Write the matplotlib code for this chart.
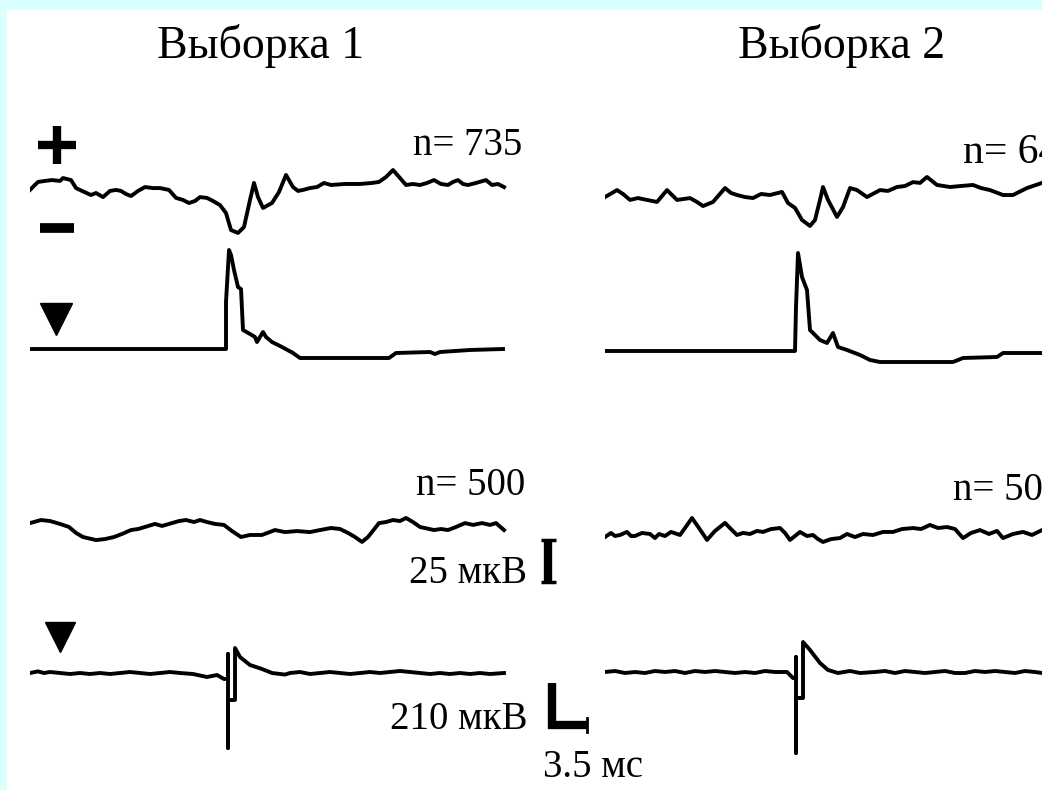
import matplotlib.pyplot as plt
from matplotlib.patches import Rectangle

# averaged traces, (time in ms, amplitude in uV)
# sample 1: evoked response (+/-), trigger channel, control (n=500), trigger channel
s1_evoked = [(0, -2.9), (0.4, -0.5), (0.8, 1.8), (1.5, 2.4), (2.2, 2.9), (3.0, 2.4), (3.3, 4.1),
             (4.1, 2.9), (4.6, -1.8), (5.2, -3.5), (6.1, -5.9), (6.6, -4.7), (7.3, -7.1), (8.0, -3.5),
             (8.6, -2.9), (9.1, -3.5), (9.6, -5.3), (10.1, -6.5), (10.8, -3.5), (11.5, -1.2),
             (12.3, -1.8), (13.0, -1.8), (13.9, -2.9), (14.6, -7.6), (15.3, -8.8), (15.9, -10.6),
             (16.5, -9.4), (17.0, -7.1), (17.7, -7.6), (18.3, -9.4), (19.0, -11.8), (19.6, -16.5),
             (20.1, -26.5), (20.8, -28.2), (21.4, -24.7), (22.0, -8.8), (22.4, 1.2), (22.8, -7.1),
             (23.3, -13.5), (24.2, -10.6), (24.9, -4.1), (25.6, 5.9), (26.3, -1.2), (26.8, -3.5),
             (27.3, -2.9), (28.0, -1.8), (28.7, -1.2), (29.4, 1.2), (30.1, 0), (31.5, 0.6),
             (33.0, 0.6), (34.2, 1.2), (34.9, 1.8), (35.6, 4.7), (36.3, 8.8), (37.0, 4.1),
             (37.6, 0), (38.3, 0.6), (39.0, 0), (39.7, 1.2), (40.4, 2.9), (41.1, 0.6), (41.8, 0),
             (42.3, 1.8), (42.8, 2.9), (43.3, 0.6), (43.8, 0), (44.6, 1.2), (45.6, 2.9), (46.2, 0),
             (46.8, 0.6), (47.4, -1.2)]
s1_trigger = [(0, 0), (19.6, 0), (19.6, 235), (19.9, 495), (20.1, 470), (20.4, 395), (20.8, 310),
              (21.1, 300), (21.3, 95), (22.0, 75), (22.5, 60), (22.7, 35), (23.3, 85), (23.6, 60),
              (24.2, 35), (25.2, 10), (26.3, -20), (27.0, -45), (35.9, -45), (36.6, -20),
              (40.0, -15), (40.5, -25), (41.0, -15), (44.0, -5), (47.3, 0)]
s1_control = [(0, 2.9), (1.1, 4.7), (2.0, 4.1), (3.0, 2.4), (3.9, 0.6), (4.6, -2.9), (5.3, -5.3),
              (6.6, -7.1), (7.5, -6.5), (8.4, -5.3), (9.2, -3.5), (10.1, -1.2), (10.8, -0.6),
              (11.5, 0.6), (12.5, 2.4), (13.2, 1.2), (14.2, 2.9), (14.9, 4.1), (15.6, 4.7),
              (16.4, 3.5), (17.0, 4.7), (17.7, 3.5), (18.5, 2.4), (19.4, 1.8), (20.2, -1.8),
              (21.1, -5.3), (22.0, -4.1), (23.2, -4.1), (24.5, -1.2), (25.5, -2.4), (26.7, -1.8),
              (28.0, -2.4), (29.0, -1.2), (30.1, 0), (31.0, -0.6), (31.8, -2.9), (32.5, -5.3),
              (33.2, -8.2), (33.8, -5.3), (34.9, 2.9), (35.6, 3.5), (36.3, 4.7), (37.0, 4.1),
              (37.6, 5.9), (38.3, 3.5), (39.0, 0.6), (40.4, -1.2), (41.1, -0.6), (41.8, -1.2),
              (42.6, 0.6), (43.5, 2.9), (44.3, 1.8), (45.2, 2.9), (46.0, 1.8), (46.6, 2.9),
              (47.4, -1.2)]
s1_control_trig = [(0, 0), (0.8, 8), (1.4, 0), (2, 5), (3, 0), (4, -5), (5, 0), (6, -5), (7, 0),
                   (8, -5), (9, 0), (10, 5), (11, 0), (12, -5), (13, 0), (14, 5), (15, 0),
                   (16.3, -5), (17.7, -20), (18.7, -10), (19.4, -30), (19.8, -30), (19.8, 95),
                   (19.8, -375), (19.8, -135), (20.5, -135), (20.5, 125), (21.0, 80), (22.0, 40),
                   (23.2, 20), (24.2, 0), (25.5, -8), (26, 0), (27, 5), (28, -5), (29, 0), (30, 5),
                   (31, 0), (32, -5), (33, 0), (34, 5), (35, 0), (36, 5), (37, 10), (38, 5), (39, 0),
                   (40, -5), (41, 0), (42, -5), (43, 0), (44, -5), (45, 0), (46, -5), (47.4, 0)]

# sample 2
s2_evoked = [(0, -1.2), (1.2, 2.9), (1.8, 0.6), (2.5, -2.9), (3.3, -1.8), (4.2, -2.9), (5.2, -4.1),
             (6.2, 2.9), (6.7, 0), (7.2, -2.9), (8.5, -1.8), (9.2, -4.1), (9.8, -6.5), (10.8, -4.1),
             (12.0, 4.1), (12.6, 1.2), (13.2, 0), (14.0, -1.2), (14.8, -1.8), (15.6, 0.6),
             (16.5, 0), (17.7, 1.8), (18.3, -4.7), (19.0, -7.6), (19.7, -14.7), (20.5, -18.2),
             (21.0, -14.7), (21.5, -2.9), (21.8, 4.7), (22.3, -2.9), (23.2, -12.9), (23.8, -7.1),
             (24.5, 4.1), (25.2, 2.9), (26.2, -1.2), (27.5, 2.9), (28.3, 2.4), (29.2, 4.7),
             (30.0, 5.3), (30.8, 7.6), (31.5, 7.1), (32.2, 10.6), (33.2, 5.9), (34.5, 4.7),
             (35.6, 5.3), (36.8, 5.9), (37.6, 4.1), (38.5, 2.9), (39.8, 0), (40.8, 0),
             (42.2, 4.1), (43.7, 7.1)]
s2_trigger = [(0, 0), (19.0, 0), (19.1, 220), (19.3, 490), (19.7, 370), (20.2, 305), (20.5, 105),
              (21.5, 55), (22.2, 40), (22.8, 90), (23.3, 20), (24.2, 5), (25.5, -20), (26.5, -45),
              (27.5, -55), (34.8, -55), (35.8, -35), (39.2, -30), (39.8, -10), (43.7, -10)]
s2_control = [(0, -1.2), (0.6, 1.2), (1.0, -0.6), (1.5, 0), (2.2, 1.8), (2.6, -0.6), (3.0, -0.6),
              (3.7, 1.2), (4.5, 0.6), (5.0, -1.8), (5.4, 0.6), (6.0, -0.6), (6.6, 1.8), (7.5, 0),
              (8.0, 4.1), (8.7, 10.0), (9.4, 4.1), (10.2, -2.9), (11.0, 2.4), (12.0, 7.1),
              (12.6, 3.5), (13.2, 0), (13.8, 1.2), (14.5, 0.6), (15.2, 2.4), (15.8, 1.8),
              (16.6, 3.5), (17.5, 4.1), (18.0, 1.2), (18.5, -2.9), (19.0, -0.6), (19.5, 1.8),
              (20.2, -0.6), (20.8, 0), (21.3, -2.4), (21.8, -4.1), (22.6, -2.4), (23.5, -1.8),
              (24.2, 0.6), (25.0, -1.2), (25.8, 0.6), (26.8, 0), (27.8, 1.8), (28.8, 1.8),
              (29.7, 3.5), (30.8, 4.1), (31.6, 3.5), (32.5, 5.9), (33.3, 4.1), (34.2, 4.7),
              (35.0, 3.5), (35.8, -1.8), (36.6, 1.2), (37.5, 2.9), (38.4, 0.6), (39.2, 2.4),
              (39.8, -1.8), (40.8, 0.6), (41.8, 1.8), (42.7, 0), (43.7, 2.9)]
s2_control_trig = [(0, 0), (1, 5), (2, -5), (3, 0), (4, -5), (5, 5), (6, 0), (7, 5), (8, -5),
                   (9, 5), (10, 0), (11, 5), (12, 0), (13, -5), (14, 0), (15, -5), (16, 5), (17, 0),
                   (18.2, 0), (18.8, -30), (19.1, -30), (19.1, 75), (19.1, -405), (19.1, -130),
                   (19.8, -130), (19.8, 150), (20.5, 110), (21.5, 45), (22.3, 10), (23.3, -5),
                   (24.5, 5), (25.5, -5), (27, 0), (28, 5), (29, -5), (30, 5), (31, 0), (32, -5),
                   (33, 0), (34, 5), (35, -5), (36, -5), (37, 5), (38, 0), (39, 5), (40, 0),
                   (41, -5), (42, 5), (43, 0), (43.7, -5)]

counts = ['n= 735', 'n= 64', 'n= 500', 'n= 500']
titles = ['Выборка 1', 'Выборка 2']
scale_uv_small = 25
scale_uv_large = 210
scale_ms = 3.5

W, H = 1042, 790
PX_PER_MS = 10.0
PX_PER_UV_EVOKED = 1.7
PX_PER_UV_TRIG = 0.2
LW = 2.8

fig = plt.figure(figsize=(W / 100, H / 100), dpi=100)
fig.patch.set_facecolor('#d9ffff')
fig.patches.append(Rectangle((7 / W, 0), 1, 1 - 10 / H, transform=fig.transFigure,
                             facecolor='white', edgecolor='none', zorder=-10))


def trace_axes(x0, base, px_per_uv, t_max=62, half=170):
    # axes whose (0 ms, 0 uV) point sits at pixel (x0, base) counted from the top-left
    ax = fig.add_axes([x0 / W, 1 - (base + half) / H, t_max * PX_PER_MS / W, 2 * half / H])
    ax.set_xlim(0, t_max)
    ax.set_ylim(-half / px_per_uv, half / px_per_uv)
    ax.axis('off')
    return ax


def draw(ax, pts):
    t, v = zip(*pts)
    ax.plot(t, v, color='black', lw=LW)


rows = [(185, 195, PX_PER_UV_EVOKED, s1_evoked, s2_evoked),
        (349, 351, PX_PER_UV_TRIG, s1_trigger, s2_trigger),
        (528, 535, PX_PER_UV_EVOKED, s1_control, s2_control),
        (673, 672, PX_PER_UV_TRIG, s1_control_trig, s2_control_trig)]
row_axes = []
for base1, base2, scale, left, right in rows:
    a1 = trace_axes(30, base1, scale)
    a2 = trace_axes(605, base2, scale)
    draw(a1, left)
    draw(a2, right)
    row_axes.append(a1)

# calibration bars next to sample 1
ax3 = row_axes[2]
bar_t = 51.8
bar_lo = -32
ax3.plot([bar_t, bar_t], [bar_lo, bar_lo + scale_uv_small], color='black', lw=6,
         solid_capstyle='butt')
for yv in (bar_lo, bar_lo + scale_uv_small):
    ax3.plot([bar_t - 0.75, bar_t + 0.75], [yv, yv], color='black', lw=2.5,
             solid_capstyle='butt')

ax4 = row_axes[3]
l_t = 52.2
l_bot = -260
ax4.plot([l_t, l_t, l_t + scale_ms], [l_bot + scale_uv_large, l_bot, l_bot], color='black',
         lw=6, solid_joinstyle='miter', solid_capstyle='butt')
ax4.plot([l_t + scale_ms, l_t + scale_ms], [l_bot + 35, l_bot - 35], color='black', lw=2)

# labels in pixel space
ov = fig.add_axes([0, 0, 1, 1])
ov.set_xlim(0, W)
ov.set_ylim(H, 0)
ov.axis('off')

serif = 'Liberation Serif'
ov.text(157, 58, titles[0], fontsize=33, family=serif, va='baseline')
ov.text(738, 58, titles[1], fontsize=33, family=serif, va='baseline')
ov.text(522, 155, counts[0], fontsize=28, family=serif, va='baseline', ha='right')
ov.text(963, 163, counts[1], fontsize=30, family=serif, va='baseline')
ov.text(525, 495, counts[2], fontsize=28, family=serif, va='baseline', ha='right')
ov.text(953, 500, counts[3], fontsize=28, family=serif, va='baseline')
ov.text(527, 583, f'{scale_uv_small} мкВ', fontsize=28, family=serif, va='baseline', ha='right')
ov.text(527, 729, f'{scale_uv_large} мкВ', fontsize=28, family=serif, va='baseline', ha='right')
ov.text(543, 777, f'{scale_ms} мс', fontsize=28, family=serif, va='baseline')

# polarity signs and stimulus markers
ov.plot(57, 145, marker='+', ms=27, mew=6, color='black')
ov.plot(57, 228, marker='_', ms=25, mew=7, color='black')
ov.plot(56, 319, marker='v', ms=23, color='black')
ov.plot(60, 637, marker='v', ms=21, color='black')

fig.savefig('out.png', dpi=100, facecolor=fig.get_facecolor())
